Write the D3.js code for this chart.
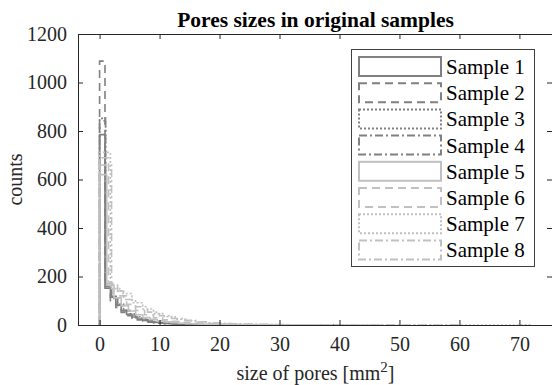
<!DOCTYPE html>
<html>
<head>
<meta charset="utf-8">
<script src="https://cdn.jsdelivr.net/npm/d3@7"></script>
<style>
  body { margin: 0; background: #fff; }
  svg text { font-family: "Liberation Serif", "Times New Roman", serif; fill: #262626; }
</style>
</head>
<body>
<div id="chart"></div>
<script>
// histogram counts per sample (stairs), each with its own bin width, bins start at 0
var sampleNames = ["Sample 1", "Sample 2", "Sample 3", "Sample 4", "Sample 5", "Sample 6", "Sample 7", "Sample 8"];
var binWidths = [0.9, 0.9, 1.0, 1.0, 1.2, 1.5, 1.8, 2.0];
var counts1 = [785, 160, 115, 82, 60, 44, 33, 25, 19, 14, 11, 8, 6, 5, 4, 3, 3, 2, 2, 1, 1, 1, 1, 0, 1, 0, 0, 1, 0, 0, 0, 0, 1];
var counts2 = [1088, 152, 100, 72, 52, 38, 28, 21, 16, 12, 9, 7, 5, 4, 3, 2, 2, 1, 1, 1, 0, 1, 0, 1, 0, 0, 0, 1, 0, 1];
var counts3 = [852, 172, 118, 86, 62, 46, 34, 25, 19, 14, 10, 8, 6, 5, 4, 3, 2, 2, 1, 1, 1, 1, 0, 1, 0, 1, 0, 0, 1, 0, 0, 0, 0, 1, 0, 0, 0, 0, 0, 1];
var counts4 = [842, 168, 110, 80, 58, 41, 30, 22, 16, 11, 8, 6, 5, 4, 3, 2, 2, 1, 1, 1, 0, 1, 0, 0, 1, 0, 0, 1];
var counts5 = [620, 165, 112, 80, 58, 42, 31, 23, 17, 13, 10, 7, 5, 4, 3, 3, 2, 2, 1, 1, 1, 0, 1, 0, 1, 0, 0, 0, 0, 1];
var counts6 = [690, 172, 120, 85, 60, 42, 30, 21, 15, 11, 8, 6, 5, 4, 3, 2, 2, 1, 1, 1, 0, 1, 0, 0, 1, 0, 0, 0, 1, 0, 0, 0, 1];
var counts7 = [712, 150, 130, 92, 66, 47, 34, 24, 17, 12, 8, 6, 5, 4, 3, 2, 2, 1, 1, 1, 1, 0, 1, 0, 0, 1, 0, 0, 0, 0, 1, 0, 0, 0, 0, 0, 0, 0, 0, 1];
var counts8 = [660, 140, 105, 75, 53, 38, 27, 19, 13, 9, 6, 5, 4, 3, 2, 2, 1, 1, 0, 1, 0, 0, 1, 0, 0, 0, 0, 0, 0, 1];
var allCounts = [counts1, counts2, counts3, counts4, counts5, counts6, counts7, counts8];
var xTicks = [0, 10, 20, 30, 40, 50, 60, 70];
var yTicks = [0, 200, 400, 600, 800, 1000, 1200];

var width = 552, height = 385;
var pLeft = 78, pRight = 553, pTop = 34, pBottom = 325;

var colors = ["#808080", "#808080", "#808080", "#808080", "#c0c0c0", "#c0c0c0", "#c0c0c0", "#c0c0c0"];
var dashes = [null, "8,5", "2,2", "8,3,2,3", null, "8,5", "2,2", "8,3,2,3"];

var svg = d3.select("#chart").append("svg")
    .attr("width", width)
    .attr("height", height);

var x = d3.scaleLinear().domain([-3.6, 75.6]).range([pLeft, pRight]);
var y = d3.scaleLinear().domain([0, 1200]).range([pBottom, pTop]);

svg.append("clipPath").attr("id", "plotclip")
  .append("rect")
    .attr("x", pLeft).attr("y", pTop - 1)
    .attr("width", pRight - pLeft).attr("height", pBottom - pTop + 2);

// stairs outline of one histogram
function stairs(c, w) {
    var pts = [[0, 0]];
    c.forEach(function(v, i) {
        pts.push([i * w, v]);
        pts.push([(i + 1) * w, v]);
    });
    pts.push([c.length * w, 0]);
    return pts;
}

var line = d3.line()
    .x(function(d) { return x(d[0]); })
    .y(function(d) { return y(d[1]); });

var g = svg.append("g").attr("clip-path", "url(#plotclip)");
g.selectAll(".hist")
    .data(allCounts).enter().append("path")
    .attr("class", "hist")
    .attr("d", function(d, i) { return line(stairs(d, binWidths[i])); })
    .attr("fill", "none")
    .attr("stroke", function(d, i) { return colors[i]; })
    .attr("stroke-width", 1.6)
    .attr("stroke-dasharray", function(d, i) { return dashes[i]; });

// axes, ticks pointing inward on all four sides
var axisColor = "#262626";
var tickLen = 5;
svg.append("g")
    .attr("transform", "translate(0," + pBottom + ")")
    .call(d3.axisBottom(x).tickValues(xTicks).tickSizeInner(-tickLen).tickSizeOuter(0).tickPadding(12))
    .call(function(a) {
        a.select(".domain").remove();
        a.selectAll("line").attr("stroke", axisColor);
        a.selectAll("text").attr("font-size", 20).attr("fill", axisColor)
          .attr("font-family", "Liberation Serif");
    });
svg.append("g")
    .attr("transform", "translate(0," + pTop + ")")
    .call(d3.axisTop(x).tickValues(xTicks).tickSizeInner(-tickLen).tickSizeOuter(0).tickFormat(""))
    .call(function(a) {
        a.select(".domain").remove();
        a.selectAll("line").attr("stroke", axisColor);
    });
svg.append("g")
    .attr("transform", "translate(" + pLeft + ",0)")
    .call(d3.axisLeft(y).tickValues(yTicks).tickFormat(d3.format("d"))
        .tickSizeInner(-tickLen).tickSizeOuter(0).tickPadding(11))
    .call(function(a) {
        a.select(".domain").remove();
        a.selectAll("line").attr("stroke", axisColor);
        a.selectAll("text").attr("font-size", 20).attr("fill", axisColor)
          .attr("font-family", "Liberation Serif");
    });
svg.append("g")
    .attr("transform", "translate(" + (pRight - 1) + ",0)")
    .call(d3.axisRight(y).tickValues(yTicks).tickSizeInner(-tickLen).tickSizeOuter(0).tickFormat(""))
    .call(function(a) {
        a.select(".domain").remove();
        a.selectAll("line").attr("stroke", axisColor);
    });

svg.append("rect")
    .attr("x", pLeft + 0.5).attr("y", pTop + 0.5)
    .attr("width", pRight - pLeft - 1).attr("height", pBottom - pTop)
    .attr("fill", "none")
    .attr("stroke", axisColor)
    .attr("stroke-width", 1);

// title and axis labels
svg.append("text")
    .attr("x", (pLeft + pRight) / 2).attr("y", 27)
    .attr("text-anchor", "middle")
    .attr("font-size", 21.5).attr("font-weight", "bold")
    .style("fill", "#000")
    .text("Pores sizes in original samples");

var xl = svg.append("text")
    .attr("x", (pLeft + pRight) / 2).attr("y", 380)
    .attr("text-anchor", "middle")
    .attr("font-size", 20);
xl.append("tspan").text("size of pores [mm");
xl.append("tspan").attr("dy", -8).attr("font-size", 15).text("2");
xl.append("tspan").attr("dy", 8).text("]");

svg.append("text")
    .attr("transform", "translate(22," + ((pTop + pBottom) / 2) + ") rotate(-90)")
    .attr("text-anchor", "middle")
    .attr("font-size", 20)
    .text("counts");

// legend
var legend = svg.append("g");
legend.append("rect")
    .attr("x", 351.5).attr("y", 49.5)
    .attr("width", 183).attr("height", 217)
    .attr("fill", "#fff")
    .attr("stroke", "#404040")
    .attr("stroke-width", 1);

var items = legend.selectAll(".item")
    .data(sampleNames).enter().append("g")
    .attr("class", "item")
    .attr("transform", function(d, i) { return "translate(0," + (56 + i * 26.2) + ")"; });
items.append("rect")
    .attr("x", 359).attr("y", 1)
    .attr("width", 82).attr("height", 19)
    .attr("fill", "none")
    .attr("stroke", function(d, i) { return colors[i]; })
    .attr("stroke-width", 2)
    .attr("stroke-dasharray", function(d, i) { return dashes[i]; });
items.append("text")
    .attr("x", 446).attr("y", 18)
    .attr("font-size", 21)
    .style("fill", "#000")
    .text(function(d) { return d; });
</script>
</body>
</html>
